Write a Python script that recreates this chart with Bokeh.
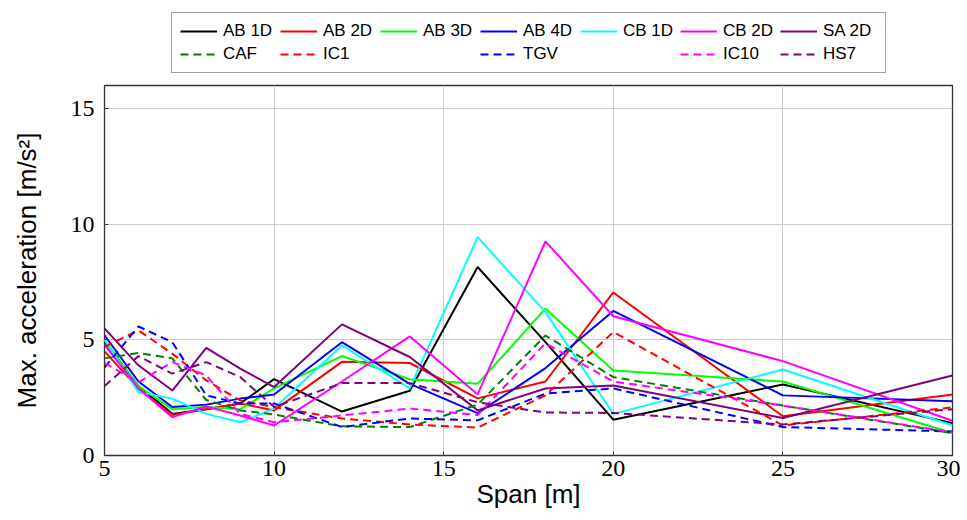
from bokeh.plotting import figure
from bokeh.models import Range1d, Legend, LegendItem, FixedTicker
from bokeh.layouts import column
from bokeh.embed import file_html
from bokeh.resources import INLINE

span = [5, 6, 7, 8, 9, 10, 12, 14, 16, 18, 20, 25, 30]

ab1d = [4.9, 3.0, 1.8, 2.0, 2.25, 3.3, 1.9, 2.8, 8.15, 4.9, 1.55, 3.07, 1.4]
ab2d = [4.5, 2.9, 1.75, 2.0, 2.25, 1.95, 4.05, 4.0, 2.47, 3.2, 7.05, 1.7, 2.64]
ab3d = [5.0, 3.0, 2.0, 2.1, 2.0, 2.9, 4.3, 3.3, 3.1, 6.35, 3.68, 3.2, 0.97]
ab4d = [5.2, 3.2, 2.1, 2.2, 2.46, 2.64, 4.9, 3.1, 1.83, 3.78, 6.25, 2.6, 2.35]
cb1d = [5.0, 2.74, 2.46, 1.8, 1.44, 2.03, 4.76, 2.9, 9.44, 6.2, 1.8, 3.72, 1.3]
cb2d = [4.8, 2.9, 1.66, 2.12, 1.73, 1.3, 3.2, 5.15, 2.64, 9.26, 6.02, 4.08, 1.5]
sa2d = [5.5, 3.9, 2.81, 4.65, 3.76, 2.96, 5.67, 4.26, 1.95, 2.9, 3.03, 1.62, 3.46]
caf = [4.2, 4.43, 4.2, 2.4, 1.95, 1.77, 1.26, 1.23, 2.2, 5.19, 3.39, 2.16, 0.97]
ic1 = [4.7, 5.41, 4.4, 3.25, 2.38, 2.09, 1.6, 1.34, 1.21, 2.6, 5.34, 1.3, 2.08]
tgv = [3.8, 5.58, 4.9, 2.6, 2.25, 2.25, 1.23, 1.6, 1.52, 2.68, 2.9, 1.23, 1.04]
ic10 = [4.0, 3.17, 4.04, 3.46, 1.8, 1.44, 1.73, 2.03, 1.75, 4.85, 3.2, 2.16, 1.0]
hs7 = [3.0, 4.3, 3.54, 4.04, 3.39, 2.1, 3.13, 3.13, 2.3, 1.86, 1.84, 1.34, 2.0]

solid_names = ["AB 1D", "AB 2D", "AB 3D", "AB 4D", "CB 1D", "CB 2D", "SA 2D"]
solid_data = [ab1d, ab2d, ab3d, ab4d, cb1d, cb2d, sa2d]
solid_colors = ["#000000", "#ff0000", "#00ff00", "#0000ff", "#00ffff", "#ff00ff", "#800080"]
dash_names = ["CAF", "IC1", "TGV", "IC10", "HS7"]
dash_data = [caf, ic1, tgv, ic10, hs7]
dash_colors = ["#008000", "#ff0000", "#0000ff", "#ff00ff", "#800080"]

x_ticks = [5, 10, 15, 20, 25, 30]
y_ticks = [0, 5, 10, 15]

DASH = "8 5"
LW = 2

# ---- main plot ----
p = figure(width=960, height=437, x_range=Range1d(5, 30), y_range=Range1d(0, 16),
           output_backend="svg", toolbar_location=None,
           min_border_left=104, min_border_right=8, min_border_bottom=65, min_border_top=2)
p.outline_line_color = "#333333"
p.outline_line_width = 1.3

for d, c in zip(solid_data, solid_colors):
    p.line(span, d, line_color=c, line_width=LW)
for d, c in zip(dash_data, dash_colors):
    p.line(span, d, line_color=c, line_width=LW, line_dash=DASH)

for ax in (p.xaxis, p.yaxis):
    ax.major_label_text_font = "Liberation Serif"
    ax.major_label_text_font_size = "24px"
    ax.major_label_text_color = "#000000"
    ax.axis_label_text_font = "Liberation Sans"
    ax.axis_label_text_font_size = "26px"
    ax.axis_label_text_font_style = "normal"
    ax.axis_label_text_color = "#000000"
    ax.axis_line_color = None
    ax.major_tick_in = 4
    ax.major_tick_out = 0
    ax.minor_tick_line_color = None
    ax.major_tick_line_color = "#333333"

p.xaxis.ticker = FixedTicker(ticks=x_ticks)
p.yaxis.ticker = FixedTicker(ticks=y_ticks)
p.xaxis.axis_label = "Span [m]"
p.yaxis.axis_label = "Max. acceleration [m/s²]"
p.xaxis.major_label_standoff = 5
p.yaxis.major_label_standoff = 10
p.xaxis.axis_label_standoff = 0
p.yaxis.axis_label_standoff = 26

p.xgrid.ticker = FixedTicker(ticks=x_ticks)
p.ygrid.ticker = FixedTicker(ticks=y_ticks)
p.grid.grid_line_color = "#cccccc"
p.grid.grid_line_width = 1

# ---- legend strip ----
lg = figure(width=960, height=83, x_range=Range1d(100, 101), y_range=Range1d(100, 101),
            output_backend="svg", toolbar_location=None,
            min_border=0)
lg.axis.visible = False
lg.grid.visible = False
lg.outline_line_color = None

solid_r = [lg.line(span, d, line_color=c, line_width=LW)
           for d, c in zip(solid_data, solid_colors)]
dash_r = [lg.line(span, d, line_color=c, line_width=LW, line_dash=DASH)
          for d, c in zip(dash_data, dash_colors)]
blank1 = lg.line(span, caf, line_alpha=0)
blank2 = lg.line(span, caf, line_alpha=0)

items = [LegendItem(label=n, renderers=[r]) for n, r in zip(solid_names, solid_r)]
items += [
    LegendItem(label="CAF", renderers=[dash_r[0]]),
    LegendItem(label="IC1", renderers=[dash_r[1]]),
    LegendItem(label=" ", renderers=[blank1]),
    LegendItem(label="TGV", renderers=[dash_r[2]]),
    LegendItem(label=" ", renderers=[blank2]),
    LegendItem(label="IC10", renderers=[dash_r[3]]),
    LegendItem(label="HS7", renderers=[dash_r[4]]),
]

legend = Legend(items=items, orientation="horizontal", ncols=7, location=(67, 10),
                label_text_font="Liberation Sans", label_text_font_size="17px",
                label_text_color="#000000",
                glyph_width=37, glyph_height=20, label_width=54, label_height=20,
                label_standoff=6, spacing=3, padding=8, margin=0,
                border_line_color="#444444", border_line_width=1.3,
                background_fill_alpha=1)
lg.add_layout(legend)

layout = column(lg, p, spacing=0)
open("out.html", "w").write(file_html(layout, INLINE))
